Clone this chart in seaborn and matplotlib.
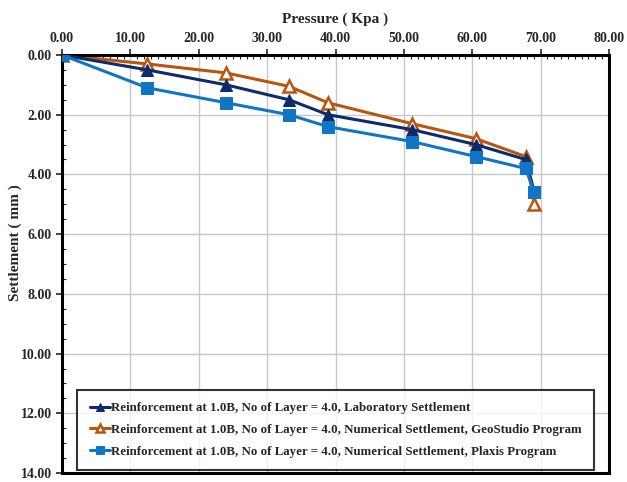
import matplotlib
matplotlib.use('Agg')
import matplotlib.pyplot as plt
from matplotlib.ticker import MultipleLocator, FormatStrFormatter
import seaborn as sns
import pandas as pd

pressure = [0.0, 12.5, 24.0, 33.2, 38.9, 51.2, 60.5, 67.8, 69.1]
lab_settlement = [0.0, 0.5, 1.0, 1.5, 2.0, 2.5, 3.0, 3.5, 4.6]
geostudio_settlement = [0.0, 0.3, 0.6, 1.05, 1.6, 2.3, 2.8, 3.4, 5.0]
plaxis_settlement = [0.0, 1.1, 1.6, 2.0, 2.4, 2.9, 3.4, 3.8, 4.6]

labels = ["Reinforcement at 1.0B, No of Layer = 4.0, Laboratory Settlement",
          "Reinforcement at 1.0B, No of Layer = 4.0, Numerical Settlement, GeoStudio Program",
          "Reinforcement at 1.0B, No of Layer = 4.0, Numerical Settlement, Plaxis Program"]

sns.set_style('white')
plt.rcParams['font.family'] = ['Liberation Serif', 'DejaVu Serif']
plt.rcParams['font.weight'] = 'bold'

fig = plt.figure(figsize=(6.27, 4.82), dpi=100)
ax = fig.add_axes([62/627, 1 - 473/482, (609-62)/627, (473-55)/482])

df = pd.DataFrame({'p': pressure, 'lab': lab_settlement,
                   'geo': geostudio_settlement, 'plx': plaxis_settlement})

sns.lineplot(data=df, x='p', y='lab', sort=False, ax=ax, color='#0d2b6b',
             marker='^', markersize=8, markeredgecolor='#0d2b6b', linewidth=2.2,
             label=labels[0], zorder=3)
sns.lineplot(data=df, x='p', y='geo', sort=False, ax=ax, color='#b8560f',
             marker='^', markersize=9, markerfacecolor='white', markeredgecolor='#b8560f',
             markeredgewidth=1.8, linewidth=2.2, label=labels[1], zorder=2)
sns.lineplot(data=df, x='p', y='plx', sort=False, ax=ax, color='#0f75c4',
             marker='s', markersize=8, markeredgecolor='#0f75c4', linewidth=2.2,
             label=labels[2], zorder=4)

ax.set_xlim(0, 80)
ax.set_ylim(14, 0)
ax.xaxis.set_major_locator(MultipleLocator(10))
ax.xaxis.set_minor_locator(MultipleLocator(1))
ax.yaxis.set_major_locator(MultipleLocator(2))
ax.yaxis.set_minor_locator(MultipleLocator(0.5))
ax.xaxis.set_major_formatter(FormatStrFormatter('%.2f'))
ax.yaxis.set_major_formatter(FormatStrFormatter('%.2f'))
ax.xaxis.tick_top()
ax.xaxis.set_label_position('top')
ax.tick_params(axis='both', which='major', labelsize=10, direction='out', length=4, width=1.2)
ax.tick_params(axis='both', which='minor', direction='in', length=3, width=0.8)
ax.tick_params(axis='x', which='both', top=True, bottom=False)
ax.tick_params(axis='y', which='both', left=True, right=False)
for t in ax.get_xticklabels() + ax.get_yticklabels():
    t.set_fontweight('bold')

ax.grid(True, which='major', color='#c8c8c8', linewidth=1.0)
for s in ax.spines.values():
    s.set_linewidth(2.2)
    s.set_color('black')

ax.set_xlabel('Pressure ( Kpa )', fontsize=11, fontweight='bold', labelpad=6)
ax.set_ylabel('Settlement ( mm )', fontsize=11, fontweight='bold')
ax.yaxis.set_label_coords(-0.073, 0.55)

leg = ax.legend(loc='lower center', bbox_to_anchor=(0.5, -0.008), fontsize=9.3,
                frameon=True, fancybox=False, edgecolor='black', handlelength=1.6,
                handletextpad=0.05, labelspacing=0.75, borderpad=0.95, markerscale=0.7)
leg.get_frame().set_linewidth(1.5)
for t in leg.get_texts():
    t.set_fontweight('bold')

fig.savefig('out.png', dpi=100)
